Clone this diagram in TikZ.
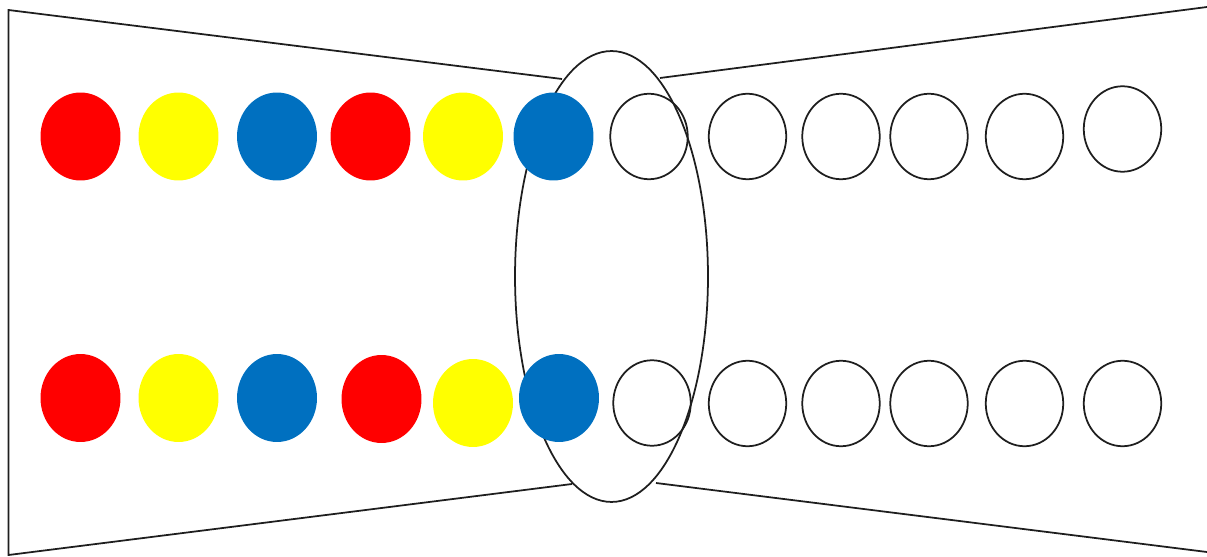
\documentclass[tikz,border=0pt]{standalone}
\usepackage{xcolor}
\usepackage{tikz}
\usetikzlibrary{shapes.geometric, positioning, calc}
\definecolor{myred}{RGB}{255,0,0}
\definecolor{myyellow}{RGB}{255,255,0}
\definecolor{myblue}{RGB}{0,112,192}
\definecolor{mydark}{RGB}{30,30,30}
\tikzset{
  bead/.style={ellipse, minimum width=1.6cm, minimum height=1.76cm, inner sep=0pt},
  hole/.style={ellipse, draw=mydark, minimum width=1.55cm, minimum height=1.71cm,
    inner sep=0pt, line width=1pt},
  wall/.style={line width=1pt, color=mydark}
}
\begin{document}
\begin{tikzpicture}[x=0.02cm, y=-0.02cm,
  ring/.style={ellipse, draw=mydark, minimum width=3.86cm, minimum height=9.02cm,
    inner sep=0pt, line width=1pt}
]
\useasboundingbox (0,0) rectangle (1207,557);
% funnel walls
\coordinate (LT) at (8.5,10);
\coordinate (LB) at (8.5,555);
\coordinate (LTi) at (562,79);
\coordinate (LBi) at (572,484);
\coordinate (RTi) at (660,78);
\coordinate (RBi) at (656,483);
\coordinate (RT) at (1207,7);
\coordinate (RB) at (1207,552);
\draw[wall] (LTi) -- (LT) -- (LB) -- (LBi);
\draw[wall] (RTi) -- (RT);
\draw[wall] (RBi) -- (RB);
% the ring
\node[ring] (R) at (611.5,276.5) {};
% coloured beads
\foreach \i/\xx/\yy/\col in {1/80.5/136.5/myred, 2/178.5/136.5/myyellow, 3/277/136.5/myblue,
    4/370.5/136.5/myred, 5/463/136.5/myyellow, 6/553.5/136.5/myblue} {
  \node[bead, fill=\col] (T\i) at (\xx,\yy) {};
}
\foreach \i/\xx/\yy/\col in {1/80.5/398/myred, 2/178.5/398/myyellow, 3/277/398/myblue,
    4/381.5/399/myred, 5/473/403/myyellow, 6/559/398/myblue} {
  \node[bead, fill=\col] (B\i) at (\xx,\yy) {};
}
% empty places
\foreach \i/\xx/\yy in {7/649/136.5, 8/747.5/136.5, 9/841/136.5, 10/929/136.5,
    11/1024.5/136.5, 12/1122.5/129} {
  \node[hole] (T\i) at (\xx,\yy) {};
}
\foreach \i/\xx/\yy in {7/652/403, 8/747.5/403.5, 9/841/403.5, 10/929/403.5,
    11/1024.5/403.5, 12/1122.5/403.5} {
  \node[hole] (B\i) at (\xx,\yy) {};
}
\end{tikzpicture}
\end{document}
